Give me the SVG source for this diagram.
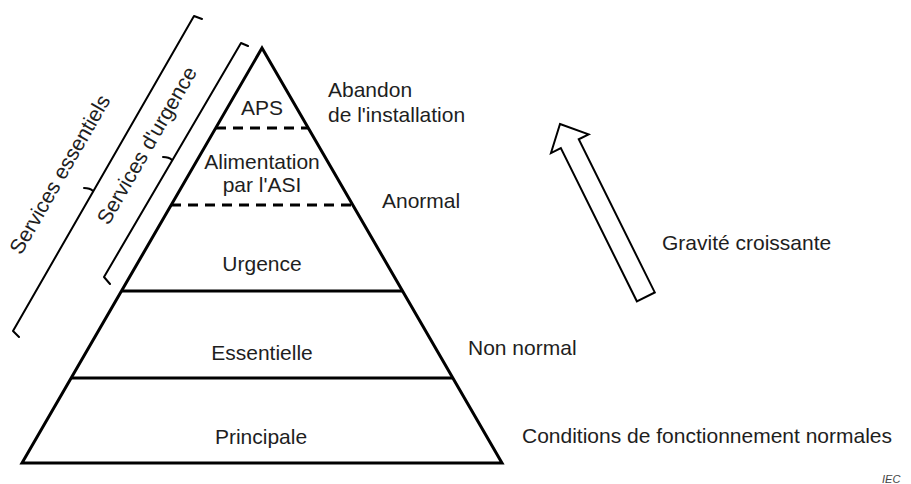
<svg xmlns="http://www.w3.org/2000/svg" width="911" height="484" viewBox="0 0 911 484">
<style>
  text { font-family: "Liberation Sans", Arial, sans-serif; font-size: 21px; fill: #1e1e1e; }
  .c { text-anchor: middle; }
  .solid { stroke: #000; stroke-width: 3; fill: none; stroke-linejoin: miter; }
  .dash { stroke: #000; stroke-width: 3; fill: none; stroke-dasharray: 10 7; }
  .brace { stroke: #000; stroke-width: 2; fill: none; stroke-linejoin: round; stroke-linecap: round; }
  .iec { font-size: 11px; font-style: italic; fill: #444; }
</style>
<rect width="911" height="484" fill="#fff"/>

<g id="pyramid">
  <path class="solid" d="M262,48 L502,463 L22,463 Z"/>
</g>
<g id="level-aps">
  <text class="c" x="262" y="115">APS</text>
</g>
<g id="level-asi">
  <line class="dash" x1="216" y1="128" x2="308" y2="128"/>
  <text class="c" x="262" y="169">Alimentation</text>
  <text class="c" x="262" y="192">par l'ASI</text>
</g>
<g id="level-urgence">
  <line class="dash" x1="171" y1="205" x2="353" y2="205"/>
  <text class="c" x="262" y="271">Urgence</text>
</g>
<g id="level-essentielle">
  <line class="solid" x1="121" y1="291" x2="403" y2="291"/>
  <text class="c" x="262" y="360">Essentielle</text>
</g>
<g id="level-principale">
  <line class="solid" x1="71" y1="378" x2="453" y2="378"/>
  <text class="c" x="261" y="444">Principale</text>
</g>

<g id="brace-urgence">
  <path class="brace" d="M248,46 L241,43 L104,277 L110,284"/>
  <path class="brace" d="M172,160 Q169,157 163,157"/>
  <text class="c" transform="translate(153,149) rotate(-60)" x="0" y="0">Services d'urgence</text>
</g>
<g id="brace-essentiels">
  <path class="brace" d="M202,19 L194,16 L13,331 L19,337"/>
  <path class="brace" d="M93,191 Q90,188 84,188"/>
  <text class="c" transform="translate(66,178) rotate(-60)" x="0" y="0">Services essentiels</text>
</g>

<g id="labels-right">
  <text x="328" y="97">Abandon</text>
  <text x="328" y="122">de l'installation</text>
  <text x="382" y="208">Anormal</text>
  <text x="468" y="355">Non normal</text>
  <text x="522" y="443">Conditions de fonctionnement normales</text>
</g>

<g id="severity-arrow">
  <path d="M0,0 L21,22 L10,22 L10,193 L-10,193 L-10,22 L-21,22 Z" transform="translate(560,124) rotate(-26.4)" fill="#fff" stroke="#000" stroke-width="2" stroke-linejoin="miter"/>
  <text x="662" y="250">Gravité croissante</text>
</g>

<g id="iec">
  <text class="iec" x="882" y="483">IEC</text>
</g>
</svg>
